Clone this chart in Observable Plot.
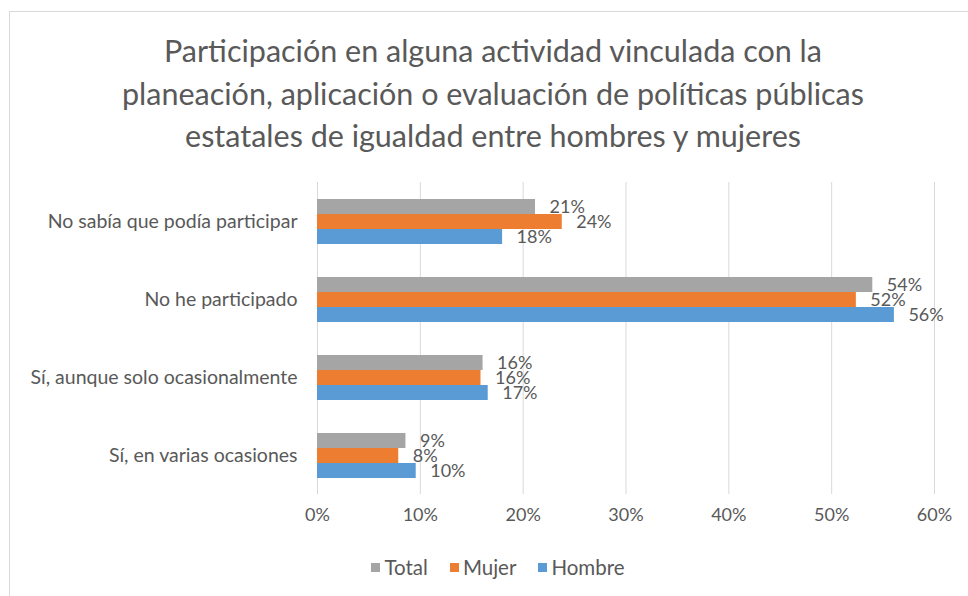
<!DOCTYPE html>
<html>
<head>
<meta charset="utf-8">
<script src="https://cdn.jsdelivr.net/npm/d3@7"></script>
<script src="https://cdn.jsdelivr.net/npm/@observablehq/plot@0.6"></script>
<style>
  html, body { margin: 0; padding: 0; background: #fff; width: 968px; height: 596px; overflow: hidden; }
  body { position: relative; font-family: Lato, "Open Sans", sans-serif; color: #595959; }
  #frame { position: absolute; left: 9px; top: 11px; width: 1000px; height: 700px; border-left: 1px solid #d9d9d9; border-top: 1px solid #d9d9d9; }
  #title { position: absolute; left: 20px; width: 946px; top: 29px; text-align: center; font-size: 30.5px; line-height: 42.5px; color: #595959; }
  #chart { position: absolute; left: 0; top: 0; }
  #legend { position: absolute; left: 0; width: 996px; top: 555px; display: flex; justify-content: center; gap: 22px; font-size: 20.5px; line-height: 24px; }
  #legend span.item { display: flex; align-items: center; gap: 4px; }
  #legend span.sw { width: 9px; height: 9px; display: inline-block; }
</style>
</head>
<body>
<div id="frame"></div>
<div id="title">Participación en alguna actividad vinculada con la<br>planeación, aplicación o evaluación de políticas públicas<br>estatales de igualdad entre hombres y mujeres</div>
<div id="chart"></div>
<div id="legend"></div>
<script>
const categories = [
  "No sabía que podía participar",
  "No he participado",
  "Sí, aunque solo ocasionalmente",
  "Sí, en varias ocasiones"
];
const series = ["Total", "Mujer", "Hombre"];
const colors = ["#A5A5A5", "#ED7D31", "#5B9BD5"];
const totalValues  = [21.2, 54.0, 16.1, 8.6];
const mujerValues  = [23.8, 52.4, 15.9, 7.9];
const hombreValues = [18.0, 56.1, 16.6, 9.6];
const xTicks = [0, 10, 20, 30, 40, 50, 60];

const valuesBySeries = [totalValues, mujerValues, hombreValues];
const data = [];
categories.forEach((c, i) => {
  series.forEach((s, j) => {
    data.push({category: c, series: s, value: valuesBySeries[j][i]});
  });
});

const chart = Plot.plot({
  width: 968,
  height: 535,
  marginTop: 180,
  marginBottom: 40,
  marginLeft: 317,
  marginRight: 34,
  style: { fontFamily: "Lato, 'Open Sans', sans-serif", fontSize: "18px", color: "#595959", background: "transparent" },
  x: { domain: [0, 60], ticks: xTicks, tickFormat: d => d + "%", tickSize: 0, tickPadding: 14, label: null, grid: false },
  fy: { domain: categories, padding: 0, label: null, tickSize: 0, tickPadding: 20 },
  y: { domain: series, paddingInner: 0, paddingOuter: 0.95, axis: null },
  color: { domain: series, range: colors },
  marks: [
    Plot.ruleX(xTicks, { x: d => d, stroke: "#d9d9d9", strokeWidth: 1 }),
    Plot.barX(data, { fy: "category", y: "series", x: "value", fill: "series" }),
    Plot.text(data, { fy: "category", y: "series", x: "value", text: d => Math.round(d.value) + "%", textAnchor: "start", dx: 14, fill: "#595959", fontSize: 18 })
  ]
});
chart.querySelectorAll("g[aria-label='fy-axis tick label'] text, g[aria-label='fy-axis'] text").forEach(t => t.setAttribute("font-size", "19.5px"));
document.getElementById("chart").appendChild(chart);

const legend = document.getElementById("legend");
series.forEach((s, j) => {
  const item = document.createElement("span");
  item.className = "item";
  const sw = document.createElement("span");
  sw.className = "sw";
  sw.style.background = colors[j];
  const t = document.createElement("span");
  t.textContent = s;
  item.appendChild(sw);
  item.appendChild(t);
  legend.appendChild(item);
});
</script>
</body>
</html>
